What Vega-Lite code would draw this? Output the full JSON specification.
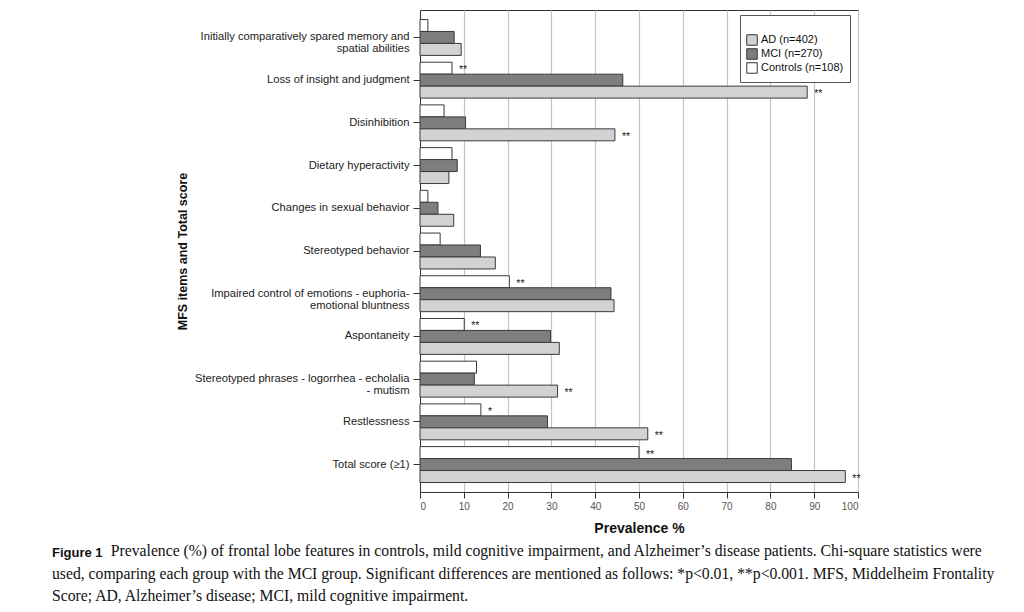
{
  "$schema": "https://vega.github.io/schema/vega-lite/v6.json",
  "width": 438,
  "height": 482,
  "autosize": {"type": "none"},
  "padding": {"left": 420, "top": 10, "right": 166, "bottom": 120},
  "background": "white",
  "title": {
    "text": "Figure 1",
    "font": "Liberation Sans",
    "fontSize": 13,
    "fontWeight": "bold",
    "color": "#111",
    "orient": "bottom",
    "anchor": "start",
    "frame": "group",
    "dx": -368,
    "offset": 12,
    "subtitle": [
      "\u200b\u00a0\u00a0\u00a0\u00a0\u00a0\u00a0\u00a0\u00a0\u00a0\u00a0\u00a0\u00a0\u00a0\u00a0\u00a0Prevalence (%) of frontal lobe features in controls, mild cognitive impairment, and Alzheimer’s disease patients. Chi-square statistics were",
      "used, comparing each group with the MCI group. Significant differences are mentioned as follows: *p<0.01, **p<0.001. MFS, Middelheim Frontality",
      "Score; AD, Alzheimer’s disease; MCI, mild cognitive impairment."
    ],
    "subtitleFont": "Liberation Serif",
    "subtitleFontSize": 15.7,
    "subtitleColor": "#111",
    "subtitleLineHeight": 22.5,
    "subtitlePadding": -16
  },
  "data": {
    "values": [
      {"item": "Initially comparatively spared memory and|spatial abilities", "group": "Controls", "value": 1.8, "sig": ""},
      {"item": "Initially comparatively spared memory and|spatial abilities", "group": "MCI", "value": 7.8, "sig": ""},
      {"item": "Initially comparatively spared memory and|spatial abilities", "group": "AD", "value": 9.4, "sig": ""},
      {"item": "Loss of insight and judgment", "group": "Controls", "value": 7.3, "sig": "**"},
      {"item": "Loss of insight and judgment", "group": "MCI", "value": 46.3, "sig": ""},
      {"item": "Loss of insight and judgment", "group": "AD", "value": 88.4, "sig": "**"},
      {"item": "Disinhibition", "group": "Controls", "value": 5.5, "sig": ""},
      {"item": "Disinhibition", "group": "MCI", "value": 10.4, "sig": ""},
      {"item": "Disinhibition", "group": "AD", "value": 44.5, "sig": "**"},
      {"item": "Dietary hyperactivity", "group": "Controls", "value": 7.3, "sig": ""},
      {"item": "Dietary hyperactivity", "group": "MCI", "value": 8.5, "sig": ""},
      {"item": "Dietary hyperactivity", "group": "AD", "value": 6.6, "sig": ""},
      {"item": "Changes in sexual behavior", "group": "Controls", "value": 1.8, "sig": ""},
      {"item": "Changes in sexual behavior", "group": "MCI", "value": 4.1, "sig": ""},
      {"item": "Changes in sexual behavior", "group": "AD", "value": 7.7, "sig": ""},
      {"item": "Stereotyped behavior", "group": "Controls", "value": 4.6, "sig": ""},
      {"item": "Stereotyped behavior", "group": "MCI", "value": 13.8, "sig": ""},
      {"item": "Stereotyped behavior", "group": "AD", "value": 17.2, "sig": ""},
      {"item": "Impaired control of emotions - euphoria-|emotional bluntness", "group": "Controls", "value": 20.4, "sig": "**"},
      {"item": "Impaired control of emotions - euphoria-|emotional bluntness", "group": "MCI", "value": 43.6, "sig": ""},
      {"item": "Impaired control of emotions - euphoria-|emotional bluntness", "group": "AD", "value": 44.3, "sig": ""},
      {"item": "Aspontaneity", "group": "Controls", "value": 10.1, "sig": "**"},
      {"item": "Aspontaneity", "group": "MCI", "value": 29.8, "sig": ""},
      {"item": "Aspontaneity", "group": "AD", "value": 31.8, "sig": ""},
      {"item": "Stereotyped phrases - logorrhea - echolalia|- mutism", "group": "Controls", "value": 12.9, "sig": ""},
      {"item": "Stereotyped phrases - logorrhea - echolalia|- mutism", "group": "MCI", "value": 12.4, "sig": ""},
      {"item": "Stereotyped phrases - logorrhea - echolalia|- mutism", "group": "AD", "value": 31.4, "sig": "**"},
      {"item": "Restlessness", "group": "Controls", "value": 13.9, "sig": "*"},
      {"item": "Restlessness", "group": "MCI", "value": 29.1, "sig": ""},
      {"item": "Restlessness", "group": "AD", "value": 52.0, "sig": "**"},
      {"item": "Total score (≥1)", "group": "Controls", "value": 50.0, "sig": "**"},
      {"item": "Total score (≥1)", "group": "MCI", "value": 84.8, "sig": ""},
      {"item": "Total score (≥1)", "group": "AD", "value": 97.1, "sig": "**"}
    ]
  },
  "encoding": {
    "y": {
      "field": "item",
      "type": "nominal",
      "sort": null,
      "scale": {"paddingInner": 0.159, "paddingOuter": 0.222},
      "axis": {
        "title": "MFS items and Total score",
        "titleFont": "Liberation Sans",
        "titleFontSize": 12.5,
        "titleFontWeight": "bold",
        "titleColor": "#111",
        "titleX": -231,
        "titleY": 241,
        "titleAngle": -90,
        "titleAlign": "center",
        "titleBaseline": "bottom",
        "labelExpr": "split(datum.label, '|')",
        "labelFont": "Liberation Sans",
        "labelFontSize": 11.2,
        "labelColor": "#222",
        "labelLineHeight": 12,
        "labelPadding": 4,
        "labelLimit": 400,
        "tickSize": 7,
        "tickColor": "#333",
        "domainColor": "#333",
        "grid": false
      }
    },
    "yOffset": {
      "field": "group",
      "type": "nominal",
      "sort": ["Controls", "MCI", "AD"],
      "scale": {"paddingInner": 0, "paddingOuter": 0}
    },
    "x": {
      "field": "value",
      "type": "quantitative",
      "scale": {"domain": [0, 100], "nice": false},
      "axis": {
        "title": "Prevalence %",
        "titleFont": "Liberation Sans",
        "titleFontSize": 14,
        "titleFontWeight": "bold",
        "titleColor": "#111",
        "titlePadding": 10,
        "values": [0, 10, 20, 30, 40, 50, 60, 70, 80, 90, 100],
        "labelFont": "Liberation Sans",
        "labelFontSize": 10,
        "labelColor": "#555",
        "labelPadding": 3,
        "tickSize": 6,
        "tickColor": "#333",
        "domainColor": "#333",
        "grid": true,
        "gridColor": "#c4c4c4",
        "gridWidth": 1.2
      }
    }
  },
  "layer": [
    {
      "mark": {"type": "bar", "stroke": "#3a3a3a", "strokeWidth": 1, "opacity": 1},
      "encoding": {
        "color": {
          "field": "group",
          "type": "nominal",
          "scale": {"domain": ["AD", "MCI", "Controls"], "range": ["#d2d2d3", "#7e7e81", "#ffffff"]},
          "legend": {
            "title": " ",
            "titleFontSize": 6,
            "titlePadding": 7,
            "orient": "none",
            "legendX": 320,
            "legendY": 5,
            "strokeColor": "#555",
            "fillColor": "white",
            "padding": 6,
            "symbolType": "square",
            "symbolSize": 110,
            "symbolStrokeColor": "#333",
            "symbolStrokeWidth": 1,
            "symbolOpacity": 1,
            "labelFont": "Liberation Sans",
            "labelFontSize": 11,
            "labelColor": "#111",
            "labelOffset": 3,
            "rowPadding": -7,
            "labelExpr": "datum.label == 'AD' ? 'AD (n=402)' : datum.label == 'MCI' ? 'MCI (n=270)' : 'Controls (n=108)'"
          }
        }
      }
    },
    {
      "mark": {"type": "text", "align": "left", "baseline": "middle", "dx": 7, "dy": 2, "fontSize": 10.5, "font": "Liberation Sans", "fill": "#222"},
      "encoding": {"text": {"field": "sig"}}
    }
  ],
  "config": {
    "view": {"stroke": "#333", "strokeWidth": 1}
  }
}
